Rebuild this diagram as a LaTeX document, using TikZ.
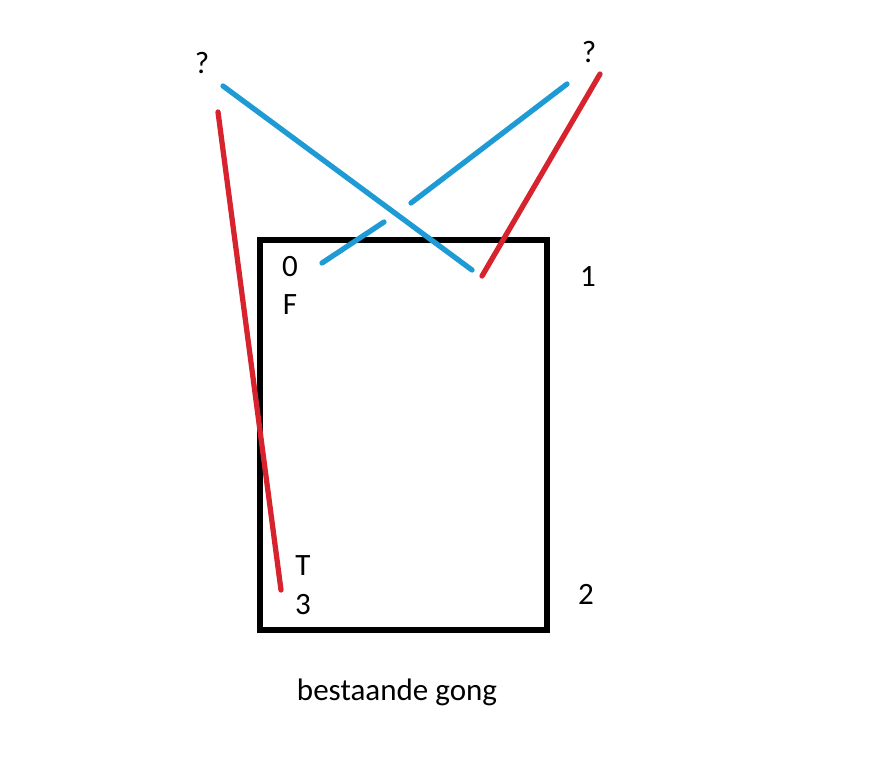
\documentclass[tikz,border=0pt]{standalone}
\usepackage{fontspec}
\setmainfont{Carlito}
\definecolor{wblue}{RGB}{30,155,212}
\definecolor{wred}{RGB}{214,35,45}
\begin{document}
\begin{tikzpicture}[x=0.03cm,y=-0.03cm,
  lbl/.style={inner sep=0pt,font=\fontsize{26.5}{30}\selectfont},
  bluewire/.style={wblue,line width=4.5pt,line cap=round},
  redwire/.style={wred,line width=4.5pt,line cap=round}]
\useasboundingbox (0,0) rectangle (881,756);
\draw[line width=4.5pt] (260,240) rectangle (547,630);
% coordinates
\coordinate (b1s) at (223,86);
\coordinate (b1e) at (472,270);
\coordinate (b2s) at (322,263);
\coordinate (b2m) at (384,222);
\coordinate (b2n) at (411,203);
\coordinate (b2e) at (567,84);
\coordinate (r1s) at (218,112);
\coordinate (r1e) at (281,590);
\coordinate (r2s) at (600,74);
\coordinate (r2e) at (482,276);
\draw[bluewire] (b1s) -- (b1e);
\draw[bluewire] (b2s) -- (b2m);
\draw[bluewire] (b2n) -- (b2e);
\draw[redwire] (r1s) -- (r1e);
\draw[redwire] (r2s) -- (r2e);
% labels
\node[lbl] (q1) at (202,63) {?};
\node[lbl] (q2) at (589,52) {?};
\node[lbl] (l0) at (290,267) {0};
\node[lbl] (lF) at (290,305) {F};
\node[lbl] (l1) at (588,277) {1};
\node[lbl] (lT) at (303,566) {T};
\node[lbl] (l3) at (303,605) {3};
\node[lbl] (l2) at (586,594) {2};
\node[lbl] (cap) at (397,692) {bestaande gong};
\end{tikzpicture}
\end{document}
